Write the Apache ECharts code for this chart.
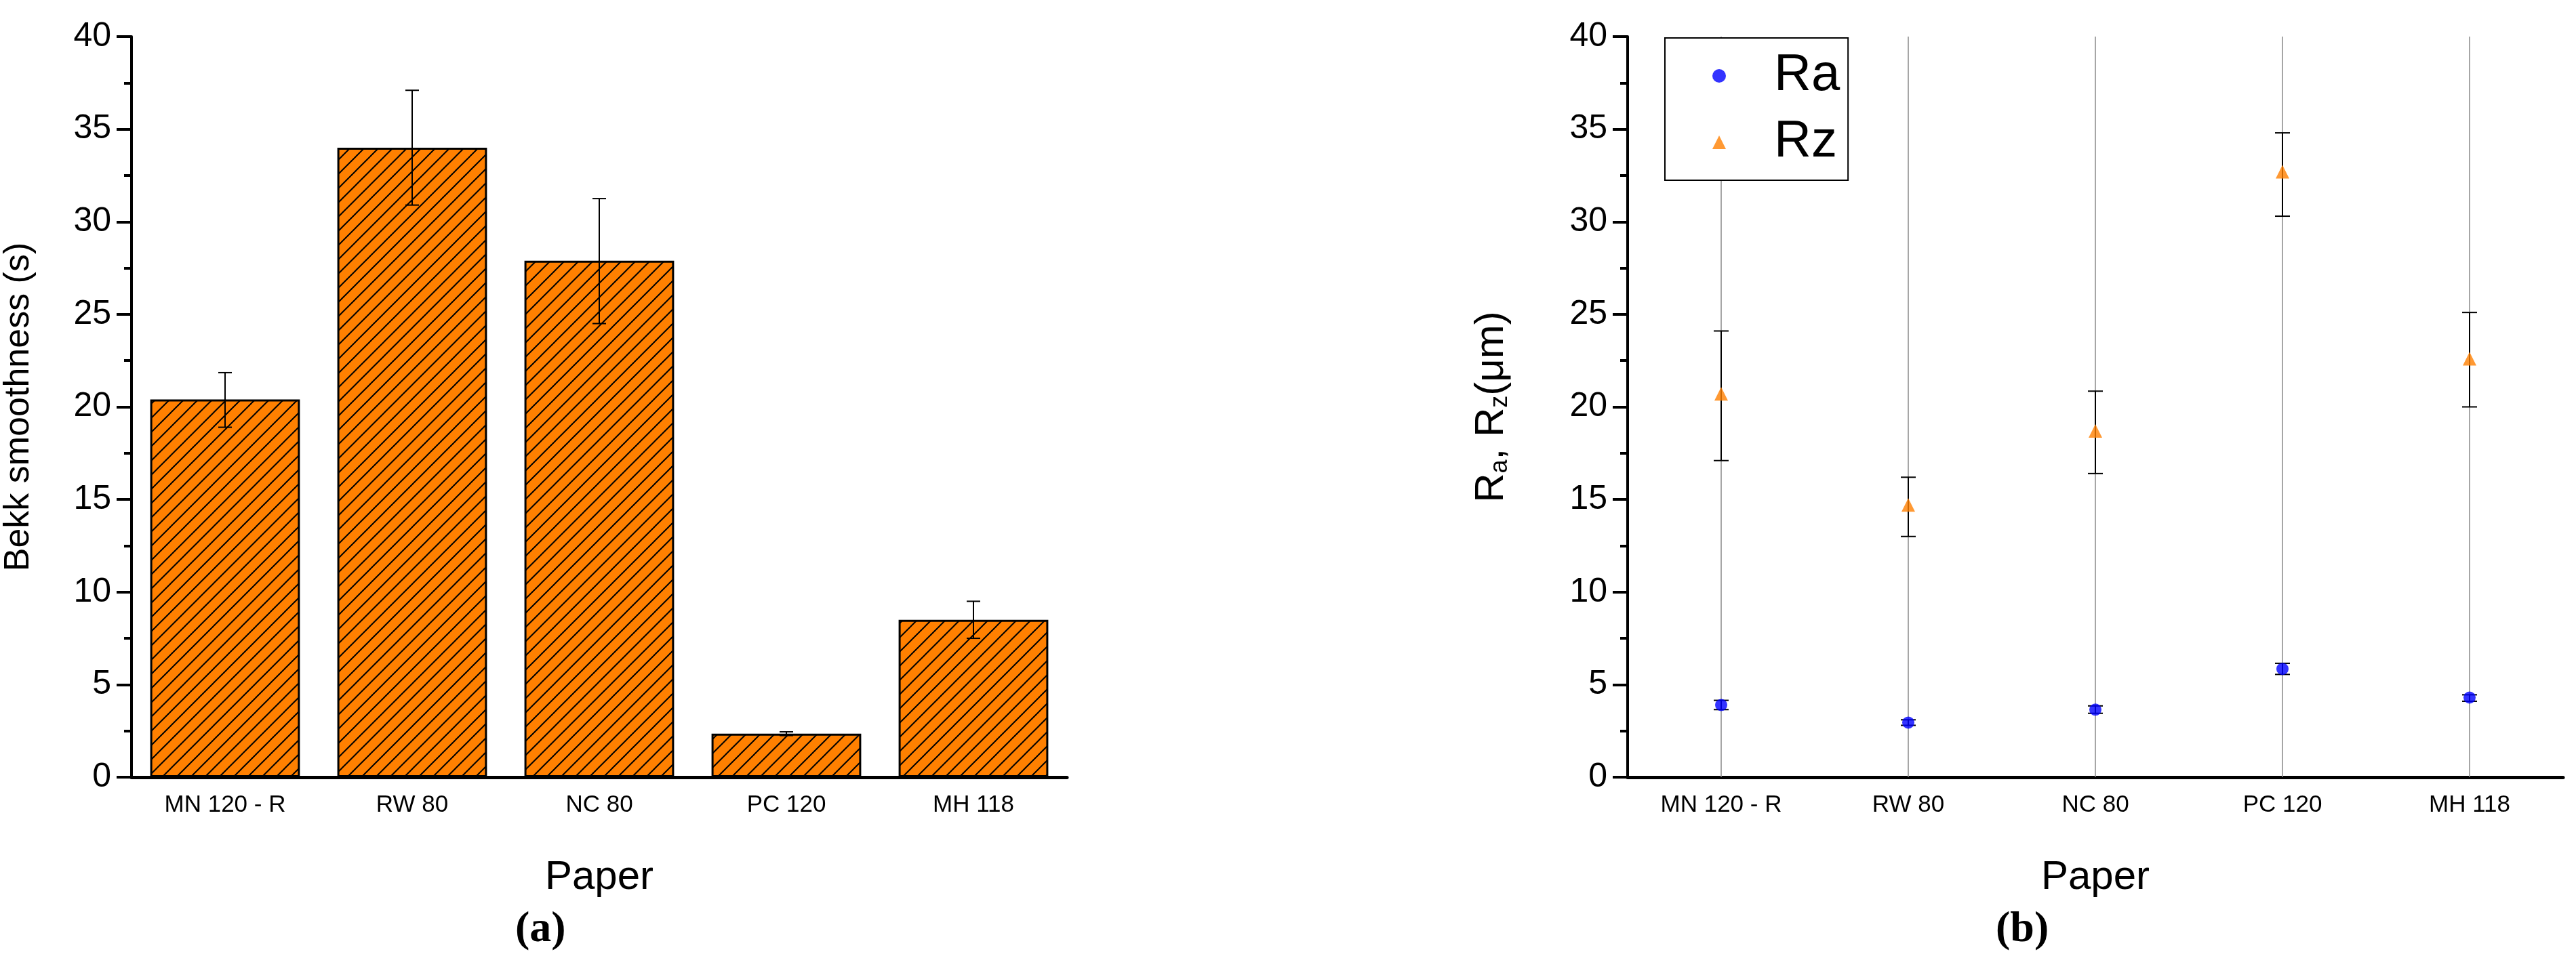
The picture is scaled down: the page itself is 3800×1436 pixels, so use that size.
<!DOCTYPE html>
<html>
<head>
<meta charset="utf-8">
<script src="https://cdn.jsdelivr.net/npm/echarts@6/dist/echarts.min.js"></script>
<style>html,body{margin:0;padding:0;background:#fff}#charts{width:3800px;height:1436px}</style>
</head>
<body>
<div id="charts"></div>
<script>
var papers = ['MN 120 - R', 'RW 80', 'NC 80', 'PC 120', 'MH 118'];
var bekk = [20.4, 34.0, 27.9, 2.35, 8.5];
var bekkLow = [18.9, 30.9, 24.5, 2.25, 7.5];
var bekkHigh = [21.85, 37.1, 31.25, 2.45, 9.5];
var ra = [3.9, 2.95, 3.65, 5.85, 4.3];
var raLow = [3.65, 2.8, 3.45, 5.55, 4.1];
var raHigh = [4.15, 3.1, 3.85, 6.15, 4.45];
var rz = [20.7, 14.7, 18.7, 32.7, 22.6];
var rzLow = [17.1, 13.0, 16.4, 30.3, 20.0];
var rzHigh = [24.1, 16.2, 20.85, 34.8, 25.1];

var NARROW = '"Liberation Sans Narrow", "Liberation Sans", Arial, sans-serif';
var SANS = '"Liberation Sans", Arial, sans-serif';

var myChart = echarts.init(document.getElementById('charts'));

// orange hatch pattern
function hatch() {
    var n = 21;
    var c = document.createElement('canvas');
    c.width = n; c.height = n;
    var g = c.getContext('2d');
    g.fillStyle = '#FF8000';
    g.fillRect(0, 0, n, n);
    g.strokeStyle = '#000';
    g.lineWidth = 2;
    g.beginPath();
    g.moveTo(-2, n + 2); g.lineTo(n + 2, -2);
    g.moveTo(-n - 2, n + 2); g.lineTo(n + 2, -n - 2);
    g.moveTo(-2, 2 * n + 2); g.lineTo(2 * n + 2, -2);
    g.stroke();
    return c;
}

function errData(lo, hi) {
    return lo.map(function (v, i) { return [i, v, hi[i]]; });
}

function errSeries(xi, yi, data, cap) {
    return {
        type: 'custom', xAxisIndex: xi, yAxisIndex: yi, z: 5, silent: true,
        data: data,
        renderItem: function (params, api) {
            var x = api.value(0);
            var lo = api.coord([x, api.value(1)]);
            var hi = api.coord([x, api.value(2)]);
            var st = { stroke: '#000', lineWidth: 2 };
            return {
                type: 'group', children: [
                    { type: 'line', shape: { x1: lo[0], y1: lo[1], x2: hi[0], y2: hi[1] }, style: st },
                    { type: 'line', shape: { x1: lo[0] - cap, y1: lo[1], x2: lo[0] + cap, y2: lo[1] }, style: st },
                    { type: 'line', shape: { x1: hi[0] - cap, y1: hi[1], x2: hi[0] + cap, y2: hi[1] }, style: st }
                ]
            };
        }
    };
}

function yAxis(idx, name) {
    return {
        type: 'value', gridIndex: idx, min: 0, max: 40, interval: 5,
        name: name, nameLocation: 'middle', nameGap: idx == 0 ? 140 : 170, nameRotate: 90,
        nameTextStyle: { fontFamily: SANS, fontSize: idx == 0 ? 52 : 60, color: '#000',
            rich: { sub: { fontFamily: SANS, fontSize: 36, color: '#000', verticalAlign: 'bottom', padding: [26, 0, 0, 0] } } },
        axisLine: { show: true, lineStyle: { color: '#000', width: 4 } },
        axisTick: { show: true, length: 22, lineStyle: { color: '#000', width: 4 } },
        minorTick: { show: true, splitNumber: 2, length: 11, lineStyle: { color: '#000', width: 4 } },
        axisLabel: { fontFamily: NARROW, fontSize: 50, color: '#000', margin: 30 },
        splitLine: { show: false }
    };
}

function xAxis(idx) {
    return {
        type: 'category', gridIndex: idx, data: papers,
        name: 'Paper', nameLocation: 'middle', nameGap: 118,
        nameTextStyle: { fontFamily: NARROW, fontSize: 60, color: '#000' },
        axisLine: { lineStyle: { color: '#000', width: 5 } },
        axisTick: { show: false },
        axisLabel: { fontFamily: SANS, fontSize: 35, color: '#000', margin: 24 }
    };
}

var option = {
    animation: false,
    backgroundColor: '#fff',
    grid: [
        { left: 194, top: 54, width: 1380, height: 1093 },
        { left: 2401, top: 54, width: 1380, height: 1093 }
    ],
    xAxis: [xAxis(0), xAxis(1)],
    yAxis: [yAxis(0, 'Bekk smoothness (s)'), yAxis(1, 'R{sub|a}, R{sub|z}(μm)')],
    legend: {
        data: [{ name: 'Ra', icon: 'circle' }, { name: 'Rz', icon: 'triangle' }],
        orient: 'vertical', left: 2456, top: 56,
        padding: [18, 12, 18, 70], itemGap: 22, itemWidth: 20, itemHeight: 20,
        backgroundColor: '#fff', borderColor: '#000', borderWidth: 2,
        textStyle: { fontFamily: NARROW, fontSize: 76, color: '#000', padding: [0, 0, 0, 66] }
    },
    graphic: [
        { type: 'text', left: 760, top: 1340, style: { text: '(a)', fontFamily: '"Liberation Serif", serif', fontSize: 64, fontWeight: 'bold', fill: '#000' } },
        { type: 'text', left: 2944, top: 1340, style: { text: '(b)', fontFamily: '"Liberation Serif", serif', fontSize: 64, fontWeight: 'bold', fill: '#000' } }
    ],
    series: [
        {
            type: 'bar', xAxisIndex: 0, yAxisIndex: 0, data: bekk, barCategoryGap: '20%',
            itemStyle: { color: { image: hatch(), repeat: 'repeat' }, borderColor: '#000', borderWidth: 3 }
        },
        errSeries(0, 0, errData(bekkLow, bekkHigh), 10),
        {
            // vertical drop lines
            type: 'custom', xAxisIndex: 1, yAxisIndex: 1, z: 1, silent: true,
            data: papers.map(function (p, i) { return [i]; }),
            renderItem: function (params, api) {
                var a = api.coord([api.value(0), 0]);
                var b = api.coord([api.value(0), 40]);
                return { type: 'line', shape: { x1: a[0], y1: a[1], x2: b[0], y2: b[1] }, style: { stroke: '#888', lineWidth: 1.5 } };
            }
        },
        errSeries(1, 1, errData(raLow, raHigh), 11),
        errSeries(1, 1, errData(rzLow, rzHigh), 11),
        { name: 'Ra', type: 'scatter', xAxisIndex: 1, yAxisIndex: 1, z: 6, data: ra, symbol: 'circle', symbolSize: 18, itemStyle: { color: '#0000FF' } },
        { name: 'Rz', type: 'scatter', xAxisIndex: 1, yAxisIndex: 1, z: 6, data: rz, symbol: 'triangle', symbolSize: 20, itemStyle: { color: '#FF8000' } }
    ]
};
myChart.setOption(option);
</script>
</body>
</html>
